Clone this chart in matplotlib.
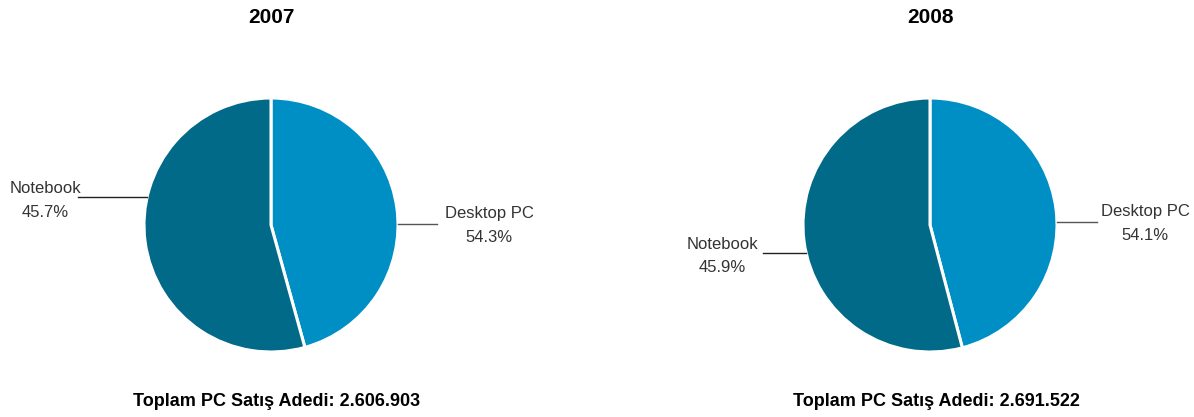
import numpy as np
from matplotlib import pyplot as plt

# data
years = ['2007', '2008']
desktop_share = [54.3, 54.1]
notebook_share = [45.7, 45.9]
totals = ['2.606.903', '2.691.522']

light = '#008fc5'
dark = '#026a89'
txt = '#333333'

plt.rcParams['font.family'] = ['Liberation Sans', 'DejaVu Sans']

W, H = 1194, 417
fig = plt.figure(figsize=(W/100, H/100), dpi=100)
ax = fig.add_axes([0, 0, 1, 1])

# layout (pixel coords, y measured from top)
centers = [(271, 225), (930, 225)]
r = 127
left_y = [197, 253]      # y of notebook leader line
right_y = [224, 222]     # y of desktop leader line
left_len = [69, 43]
right_len = [39, 40]
left_off = [33, 41]
right_off = [52, 48]

for i in range(len(years)):
    cx, cy = centers[i]
    # light wedge drawn clockwise from the top, as in the original graphic
    ax.pie([notebook_share[i], desktop_share[i]], colors=[light, dark],
           center=(cx, H - cy), radius=r, startangle=90, counterclock=False,
           wedgeprops=dict(edgecolor='white', linewidth=2.2))

    # notebook label (left)
    ly = left_y[i]
    x_edge = cx - np.sqrt(r**2 - (ly - cy)**2)
    x0 = x_edge - left_len[i]
    ax.plot([x0, x_edge], [H - ly, H - ly], color='#222222', lw=1)
    ax.text(x0 - left_off[i], H - ly + 9, 'Notebook', ha='center', va='center',
            fontsize=12, color=txt)
    ax.text(x0 - left_off[i], H - ly - 15, '%.1f%%' % notebook_share[i],
            ha='center', va='center', fontsize=12, color=txt)

    # desktop label (right)
    ry = right_y[i]
    x_edge = cx + np.sqrt(r**2 - (ry - cy)**2)
    x1 = x_edge + right_len[i]
    ax.plot([x_edge, x1], [H - ry, H - ry], color='#555555', lw=1)
    ax.text(x1 + right_off[i], H - ry + 11, 'Desktop PC', ha='center',
            va='center', fontsize=12, color=txt)
    ax.text(x1 + right_off[i], H - ry - 13, '%.1f%%' % desktop_share[i],
            ha='center', va='center', fontsize=12, color=txt)

    ax.text(cx, H - 17, years[i], ha='center', va='center', fontsize=15,
            fontweight='bold', color='black')
    ax.text(cx + 6, H - 402, 'Toplam PC Satış Adedi: ' + totals[i],
            ha='center', va='center', fontsize=13, fontweight='bold',
            color='black')

ax.set_xlim(0, W)
ax.set_ylim(0, H)
ax.set_aspect('auto')
ax.axis('off')

plt.savefig('out.png', dpi=100)
